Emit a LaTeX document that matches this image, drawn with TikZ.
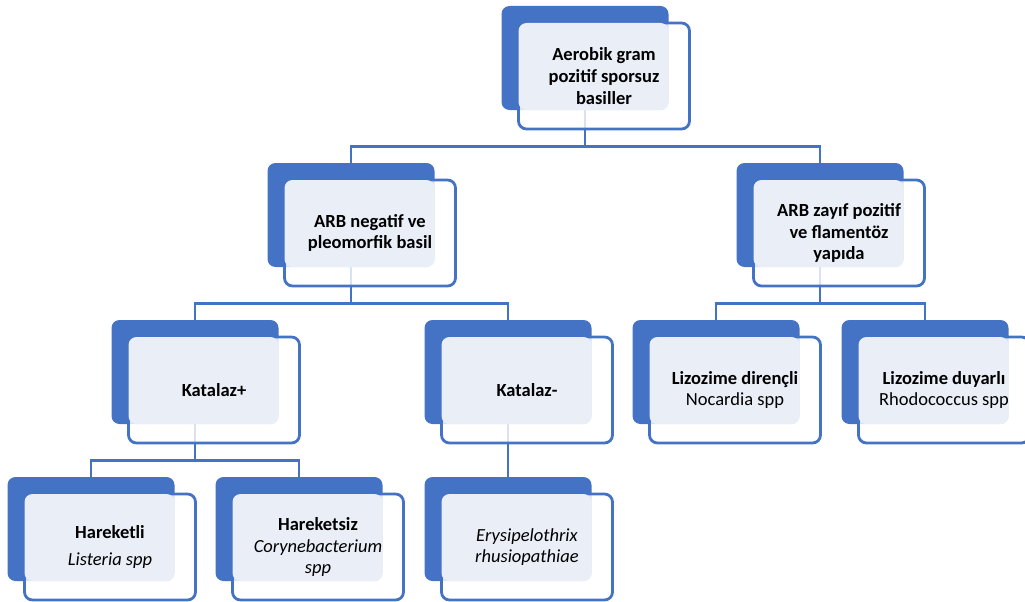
\documentclass[tikz,border=0pt]{standalone}
\usepackage{fontspec}
\setmainfont{Carlito}
\definecolor{orgblue}{RGB}{68,114,196}
\definecolor{orglight}{RGB}{233,238,247}
\tikzset{
	backbox/.style={fill=orgblue, rounded corners=8pt, minimum width=167pt, minimum height=104pt, inner sep=0pt},
	frontbox/.style={draw=orgblue, line width=2.8pt, fill=white, fill opacity=0.8, rounded corners=8pt, minimum width=171pt, minimum height=106pt, inner sep=0pt},
	lightbox/.style={fill=orglight, rounded corners=8pt, minimum width=150pt, minimum height=87pt, inner sep=0pt},
	txt/.style={align=center, inner sep=0pt, font=\fontsize{18.5}{21.7}\selectfont},
	link/.style={draw=orgblue, line width=2.6pt}
}

\begin{document}
\begin{tikzpicture}[x=1pt, y=-1pt]
				\useasboundingbox (0,0) rectangle (1025,602);
				% back boxes
				\node[backbox] (root-b) at (585, 58) {};
				\node[backbox] (arbneg-b) at (351, 215) {};
				\node[backbox] (arbzay-b) at (820, 215) {};
				\node[backbox] (katpos-b) at (195, 372) {};
				\node[backbox] (katneg-b) at (508, 372) {};
				\node[backbox] (lizdir-b) at (716, 372) {};
				\node[backbox] (lizduy-b) at (925, 372) {};
				\node[backbox] (hareketli-b) at (91, 529) {};
				\node[backbox] (hareketsiz-b) at (299, 529) {};
				\node[backbox] (erys-b) at (508, 529) {};
				% connectors
				\draw[link] (root-b.south) -- ++(0,36) -| (arbneg-b.north);
				\draw[link] (root-b.south) -- ++(0,36) -| (arbzay-b.north);
				\draw[link] (arbneg-b.south) -- ++(0,36) -| (katpos-b.north);
				\draw[link] (arbneg-b.south) -- ++(0,36) -| (katneg-b.north);
				\draw[link] (arbzay-b.south) -- ++(0,36) -| (lizdir-b.north);
				\draw[link] (arbzay-b.south) -- ++(0,36) -| (lizduy-b.north);
				\draw[link] (katpos-b.south) -- ++(0,36) -| (hareketli-b.north);
				\draw[link] (katpos-b.south) -- ++(0,36) -| (hareketsiz-b.north);
				\draw[link] (katneg-b.south) -- (erys-b.north);
				% front boxes
				\node[frontbox] (root-f) at (604, 76) {};
				\node[lightbox] (root-l) at (593.5, 66.5) {};
				\node[txt, font=\fontsize{18.5}{21.7}\selectfont\bfseries] (root) at (604, 76) {Aerobik gram\\pozitif sporsuz\\basiller};
				\node[frontbox] (arbneg-f) at (370, 233) {};
				\node[lightbox] (arbneg-l) at (359.5, 223.5) {};
				\node[txt, font=\fontsize{18.5}{21.7}\selectfont\bfseries] (arbneg) at (370, 233) {ARB negatif ve\\pleomorfik basil};
				\node[frontbox] (arbzay-f) at (839, 233) {};
				\node[lightbox] (arbzay-l) at (828.5, 223.5) {};
				\node[txt, font=\fontsize{18.5}{21.7}\selectfont\bfseries] (arbzay) at (839, 233) {ARB zayıf pozitif\\ve flamentöz\\yapıda};
				\node[frontbox] (katpos-f) at (214, 390) {};
				\node[lightbox] (katpos-l) at (203.5, 380.5) {};
				\node[txt, font=\fontsize{18.5}{21.7}\selectfont\bfseries] (katpos) at (214, 390) {Katalaz+};
				\node[frontbox] (katneg-f) at (527, 390) {};
				\node[lightbox] (katneg-l) at (516.5, 380.5) {};
				\node[txt, font=\fontsize{18.5}{21.7}\selectfont\bfseries] (katneg) at (527, 390) {Katalaz-};
				\node[frontbox] (lizdir-f) at (735, 390) {};
				\node[lightbox] (lizdir-l) at (724.5, 380.5) {};
				\node[txt] (lizdir) at (735, 390) {\textbf{Lizozime dirençli}\\Nocardia spp};
				\node[frontbox] (lizduy-f) at (944, 390) {};
				\node[lightbox] (lizduy-l) at (933.5, 380.5) {};
				\node[txt] (lizduy) at (944, 390) {\textbf{Lizozime duyarlı}\\Rhodococcus spp};
				\node[frontbox] (hareketli-f) at (110, 547) {};
				\node[lightbox] (hareketli-l) at (99.5, 537.5) {};
				\node[txt] (hareketli) at (110, 547) {\textbf{Hareketli}\\[5pt]\textit{Listeria spp}};
				\node[frontbox] (hareketsiz-f) at (318, 547) {};
				\node[lightbox] (hareketsiz-l) at (307.5, 537.5) {};
				\node[txt] (hareketsiz) at (318, 547) {\textbf{Hareketsiz}\\\textit{Corynebacterium}\\\textit{spp}};
				\node[frontbox] (erys-f) at (527, 547) {};
				\node[lightbox] (erys-l) at (516.5, 537.5) {};
				\node[txt] (erys) at (527, 547) {\textit{Erysipelothrix}\\\textit{rhusiopathiae}};
			\end{tikzpicture}
\end{document}
